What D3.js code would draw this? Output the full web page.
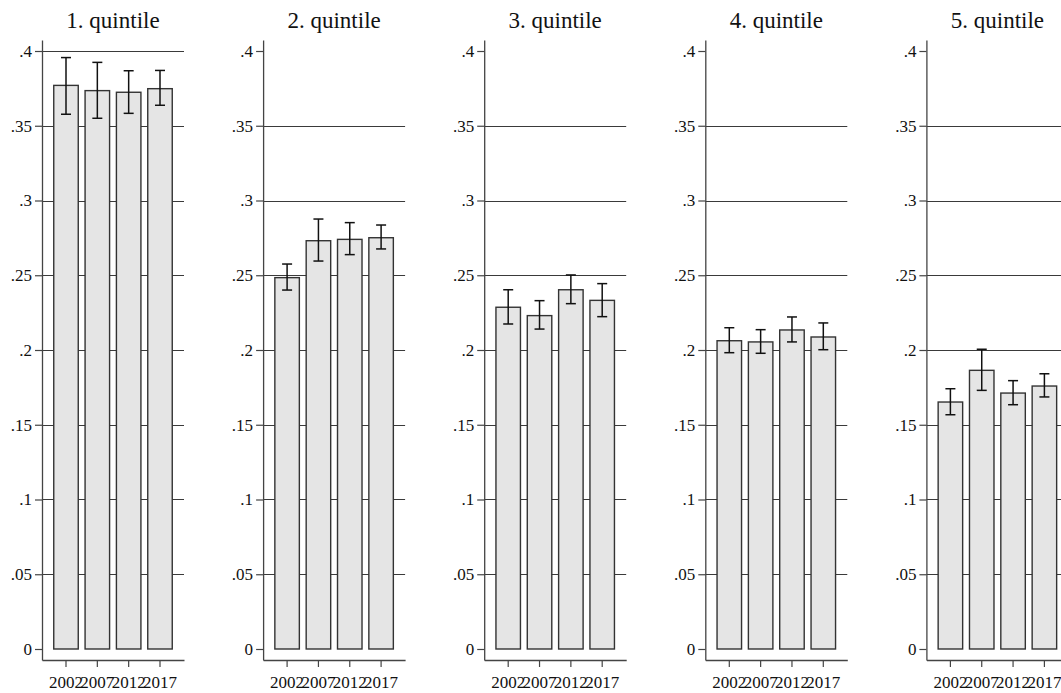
<!DOCTYPE html>
<html>
<head>
<meta charset="utf-8">
<script src="https://cdn.jsdelivr.net/npm/d3@7"></script>
<style>
  html, body { margin: 0; padding: 0; background: #ffffff; }
</style>
</head>
<body>
<svg id="chart" width="1061" height="693" font-family="Liberation Serif"></svg>
<script>
// ---- data ----
const years = ["2002", "2007", "2012", "2017"];
const panelTitles = ["1. quintile", "2. quintile", "3. quintile", "4. quintile", "5. quintile"];
const yTicks = [0, 0.05, 0.1, 0.15, 0.2, 0.25, 0.3, 0.35, 0.4];
const yTickLabels = ["0", ".05", ".1", ".15", ".2", ".25", ".3", ".35", ".4"];

const q1Mean = [0.377, 0.3735, 0.3724, 0.3748];
const q1Low  = [0.3577, 0.355, 0.3583, 0.3637];
const q1High = [0.3956, 0.3924, 0.3868, 0.387];

const q2Mean = [0.2484, 0.2731, 0.2740, 0.2751];
const q2Low  = [0.2401, 0.2595, 0.2638, 0.2676];
const q2High = [0.2575, 0.2876, 0.2852, 0.2836];

const q3Mean = [0.2286, 0.2230, 0.2403, 0.2332];
const q3Low  = [0.2174, 0.2140, 0.2310, 0.2223];
const q3High = [0.2403, 0.2330, 0.2502, 0.2444];

const q4Mean = [0.2062, 0.2054, 0.2134, 0.2087];
const q4Low  = [0.1982, 0.1978, 0.2054, 0.2002];
const q4High = [0.2149, 0.2136, 0.2221, 0.2181];

const q5Mean = [0.1652, 0.1864, 0.1712, 0.1759];
const q5Low  = [0.1567, 0.1730, 0.1634, 0.1686];
const q5High = [0.1741, 0.2005, 0.1795, 0.1841];

const panels = [
  { title: panelTitles[0], mean: q1Mean, low: q1Low, high: q1High, topGrid: true },
  { title: panelTitles[1], mean: q2Mean, low: q2Low, high: q2High, topGrid: false },
  { title: panelTitles[2], mean: q3Mean, low: q3Low, high: q3High, topGrid: false },
  { title: panelTitles[3], mean: q4Mean, low: q4Low, high: q4High, topGrid: false },
  { title: panelTitles[4], mean: q5Mean, low: q5Low, high: q5High, topGrid: false }
];

// ---- layout ----
const svg = d3.select("#chart");
const panelStep = 221.1;
const axisX0 = 42, plotW = 142;
const plotTop = 40, plotBottom = 660;
const FONT = "Liberation Serif";

const y = d3.scaleLinear().domain([-0.00736, 0.40736]).range([plotBottom, plotTop]);
const x = d3.scaleBand().domain(years).range([0, plotW]).paddingInner(0.218).paddingOuter(0.375);

panels.forEach((p, i) => {
  const g = svg.append("g").attr("transform", `translate(${axisX0 + i * panelStep},0)`);

  // gridlines
  const gridVals = yTicks.filter(v => v > 0 && (v < 0.4 || p.topGrid));
  g.append("g").selectAll("line").data(gridVals).join("line")
    .attr("x1", 0).attr("x2", plotW)
    .attr("y1", d => Math.round(y(d)) + 0.5).attr("y2", d => Math.round(y(d)) + 0.5)
    .attr("stroke", "#3a3a3a").attr("stroke-width", 1);

  // bars
  g.append("g").selectAll("rect").data(p.mean).join("rect")
    .attr("x", (d, j) => x(years[j]))
    .attr("width", x.bandwidth())
    .attr("y", d => y(d))
    .attr("height", d => y(0) - y(d))
    .attr("fill", "#e5e5e5")
    .attr("stroke", "#333333")
    .attr("stroke-width", 1.4);

  // error bars
  const eb = g.append("g").attr("stroke", "#111").attr("stroke-width", 1.5).attr("fill", "none");
  const cap = 5;
  p.mean.forEach((m, j) => {
    const cx = x(years[j]) + x.bandwidth() / 2;
    eb.append("line").attr("x1", cx).attr("x2", cx).attr("y1", y(p.low[j])).attr("y2", y(p.high[j]));
    eb.append("line").attr("x1", cx - cap).attr("x2", cx + cap).attr("y1", y(p.low[j])).attr("y2", y(p.low[j]));
    eb.append("line").attr("x1", cx - cap).attr("x2", cx + cap).attr("y1", y(p.high[j])).attr("y2", y(p.high[j]));
  });

  // y axis
  const yAxis = d3.axisLeft(y).tickValues(yTicks)
    .tickFormat((d, k) => yTickLabels[k]).tickSize(7).tickSizeOuter(0).tickPadding(3);
  const ya = g.append("g").call(yAxis).attr("font-family", FONT).attr("font-size", 17);
  ya.select(".domain").attr("stroke", "#444").attr("stroke-width", 1.3);
  ya.selectAll(".tick line").attr("stroke", "#444").attr("stroke-width", 1.2);
  ya.selectAll("text").attr("fill", "#111").attr("font-family", FONT).attr("font-size", 17);

  // x axis
  const xAxis = d3.axisBottom(x).tickSize(7).tickSizeOuter(0).tickPadding(9);
  const xa = g.append("g").attr("transform", `translate(0,${plotBottom})`).call(xAxis)
    .attr("font-family", FONT).attr("font-size", 17);
  xa.select(".domain").attr("stroke", "#444").attr("stroke-width", 1.3);
  xa.selectAll(".tick line").attr("stroke", "#444").attr("stroke-width", 1.2);
  xa.selectAll("text").attr("fill", "#111").attr("font-family", FONT).attr("font-size", 17);

  // title
  g.append("text")
    .attr("x", plotW / 2).attr("y", 27.5)
    .attr("text-anchor", "middle")
    .attr("fill", "#111")
    .attr("font-family", FONT)
    .attr("font-size", 23)
    .text(p.title);
});
</script>
</body>
</html>
